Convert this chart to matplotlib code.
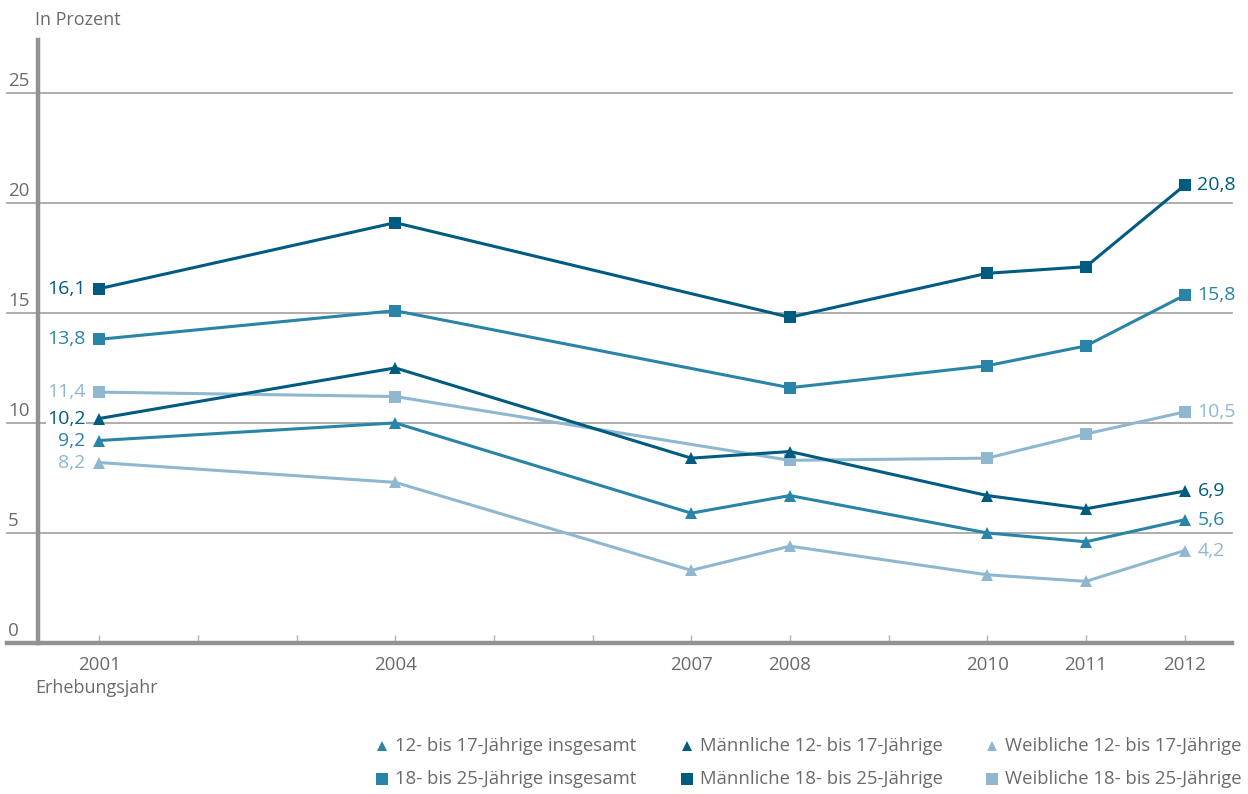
import matplotlib
matplotlib.use("Agg")
import matplotlib.pyplot as plt
import matplotlib.transforms as mtransforms
from matplotlib.lines import Line2D

plt.rcParams['font.family'] = ['Open Sans', 'DejaVu Sans']

years = [2001, 2004, 2007, 2008, 2010, 2011, 2012]
years_sq = [2001, 2004, 2008, 2010, 2011, 2012]

m_18_25 = [16.1, 19.1, 14.8, 16.8, 17.1, 20.8]
t_18_25 = [13.8, 15.1, 11.6, 12.6, 13.5, 15.8]
w_18_25 = [11.4, 11.2, 8.3, 8.4, 9.5, 10.5]
m_12_17 = [10.2, 12.5, 8.4, 8.7, 6.7, 6.1, 6.9]
t_12_17 = [9.2, 10.0, 5.9, 6.7, 5.0, 4.6, 5.6]
w_12_17 = [8.2, 7.3, 3.3, 4.4, 3.1, 2.8, 4.2]

labels = ["12- bis 17-Jährige insgesamt", "Männliche 12- bis 17-Jährige", "Weibliche 12- bis 17-Jährige",
          "18- bis 25-Jährige insgesamt", "Männliche 18- bis 25-Jährige", "Weibliche 18- bis 25-Jährige"]
yticks = [0, 5, 10, 15, 20, 25]

DARK = '#005b80'
MED = '#2984a7'
LIGHT = '#8fb8d0'
GRAY = '#929295'
TXT = '#6b6b6b'

fig = plt.figure(figsize=(12.48, 7.94), dpi=100)
ax = fig.add_axes([38/1248, 1-643/794, (1232-38)/1248, (643-40)/794])
ax.set_xlim(2000.38, 2012.48)
ax.set_ylim(0, 27.4)

for s in ['top', 'right', 'bottom']:
    ax.spines[s].set_visible(False)
ax.spines['left'].set_color(GRAY)
ax.spines['left'].set_linewidth(3.2)

xl = -31/1194
for v in yticks[1:]:
    ax.axhline(v, xmin=xl, xmax=1, color='#a0a0a0', lw=1.2, clip_on=False, zorder=1)
ax.axhline(0, xmin=xl, xmax=1, color=GRAY, lw=3.2, clip_on=False, zorder=2)

trans = mtransforms.blended_transform_factory(ax.transAxes, ax.transData)
for v in yticks:
    ax.text(xl + 0.001, v + 0.12, str(v), transform=trans, ha='left', va='bottom',
            fontsize=13.5, color=TXT)

ax.set_yticks([])
ax.set_xticks(years)
ax.set_xticklabels([str(y) for y in years], fontsize=13.5, color=TXT)
ax.set_xticks([2002, 2003, 2005, 2006, 2009], minor=True)
ax.tick_params(axis='x', which='both', direction='in', length=6, color='#b0b0b0', width=1, pad=9)

series = [
    (years, w_12_17, LIGHT, '^'),
    (years, t_12_17, MED, '^'),
    (years_sq, w_18_25, LIGHT, 's'),
    (years, m_12_17, DARK, '^'),
    (years_sq, t_18_25, MED, 's'),
    (years_sq, m_18_25, DARK, 's'),
]
for xs, ys, c, m in series:
    ax.plot(xs, ys, color=c, lw=2.2, marker=m, markersize=8,
            markeredgewidth=0, zorder=3, clip_on=False)
    ax.text(xs[0] - 0.14, ys[0], f"{ys[0]:.1f}".replace('.', ','), ha='right', va='center',
            fontsize=14, color=c, zorder=4,
            bbox=dict(facecolor='white', edgecolor='none', pad=0.5))
    ax.text(xs[-1] + 0.13, ys[-1], f"{ys[-1]:.1f}".replace('.', ','), ha='left', va='center',
            fontsize=14, color=c, zorder=4,
            bbox=dict(facecolor='white', edgecolor='none', pad=0.5))

fig.text(35/1248, 1-20/794, "In Prozent", ha='left', va='center', fontsize=13, color=TXT)
fig.text(35/1248, 1-688/794, "Erhebungsjahr", ha='left', va='center', fontsize=13, color=TXT)

handles = [
    ('^', MED, 7.5), ('^', DARK, 7.5), ('^', LIGHT, 7.5),
    ('s', MED, 8.5), ('s', DARK, 8.5), ('s', LIGHT, 8.5),
]
colx = [372, 677, 982]
rowy = [746, 779]
for i, ((mk, col, ms), lab) in enumerate(zip(handles, labels)):
    r, c = divmod(i, 3)
    fx = colx[c] / 1248
    fy = 1 - rowy[r] / 794
    fig.lines.append(Line2D([fx + 10/1248], [fy], ls='none', marker=mk,
                            color=col, markersize=ms,
                            transform=fig.transFigure, markeredgewidth=0))
    fig.text(fx + 23/1248, fy, lab, ha='left', va='center', fontsize=13.3, color=TXT)

fig.savefig('out.png', dpi=100, facecolor='white')
